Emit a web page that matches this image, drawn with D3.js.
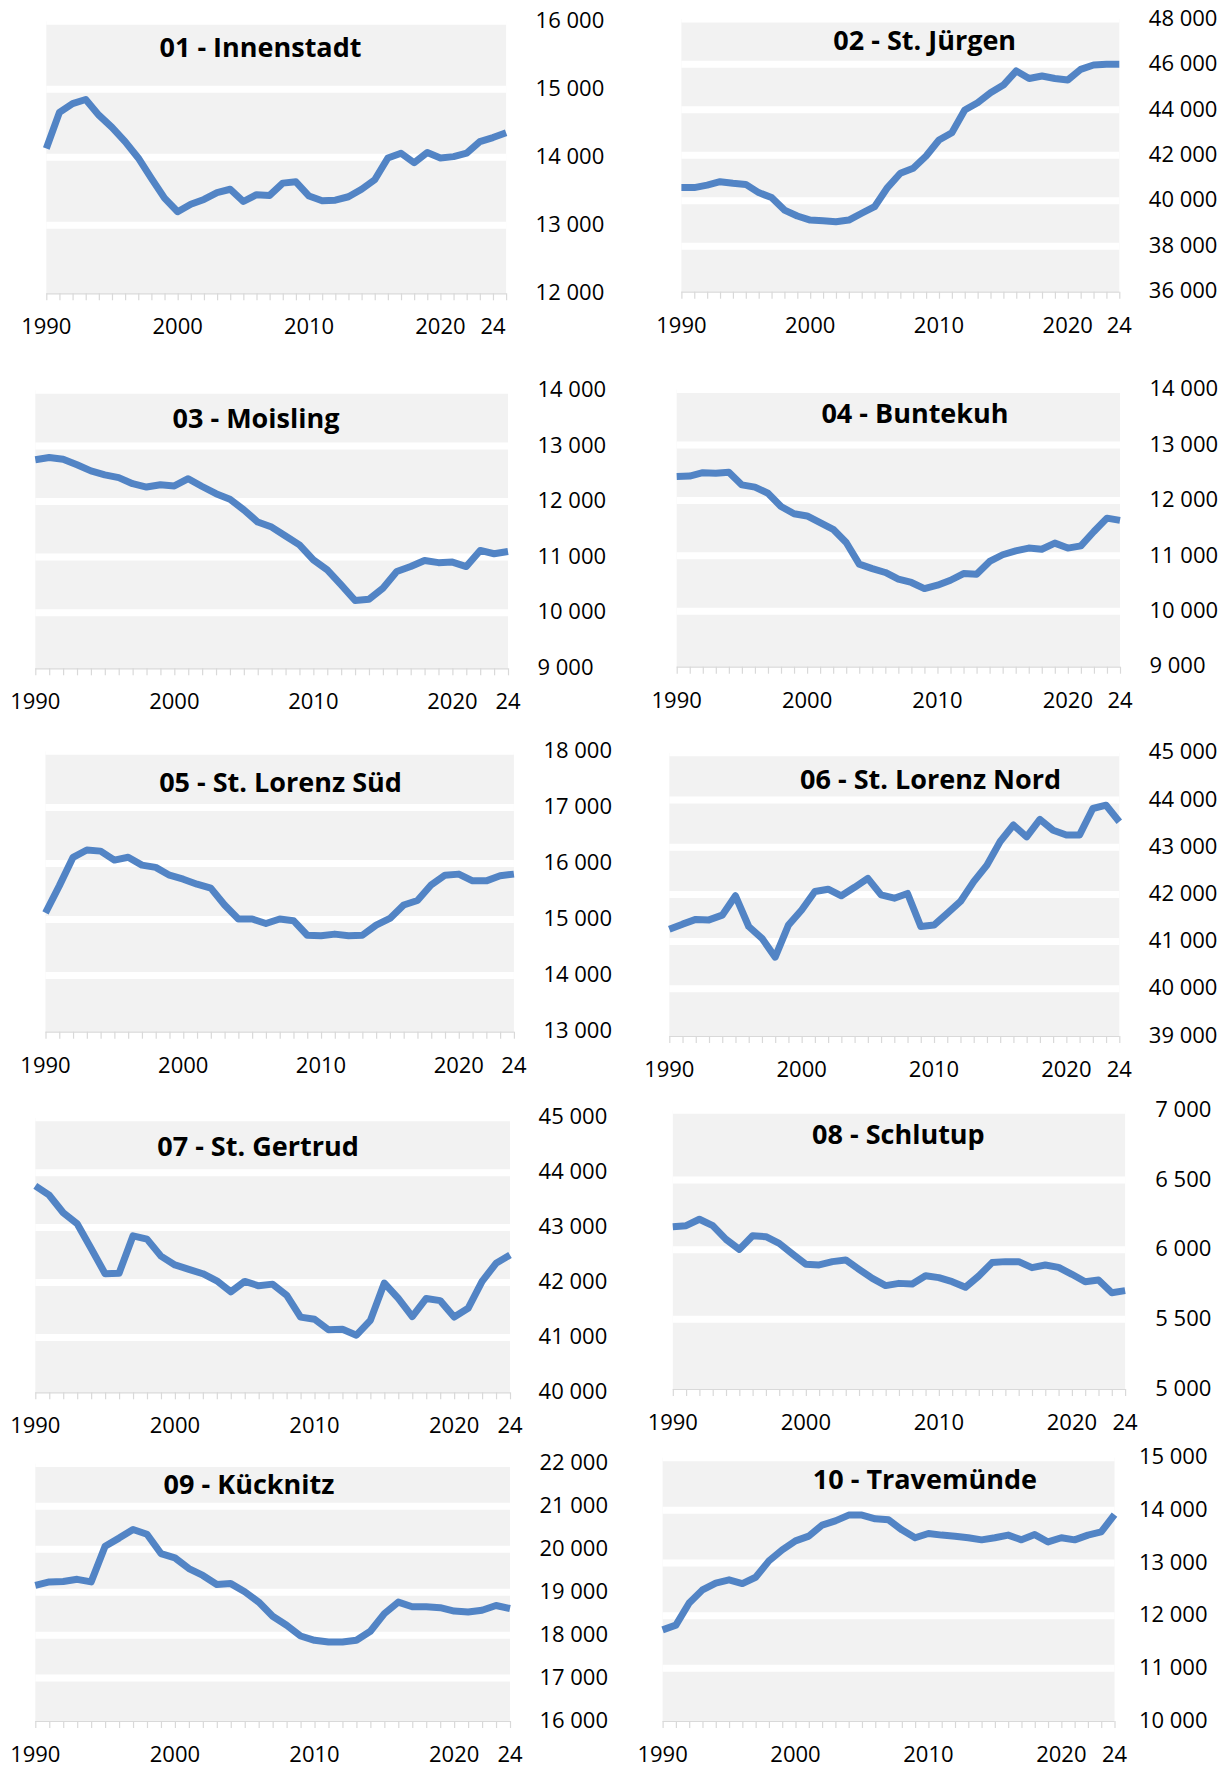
<!DOCTYPE html>
<html><head><meta charset="utf-8">
<script src="https://cdn.jsdelivr.net/npm/d3@7"></script>
<style>
html,body{margin:0;padding:0;background:#fff;}
svg{display:block;}
text{font-family:"Open Sans",sans-serif;fill:#000;}
</style></head><body>
<svg id="c" width="1224" height="1767"></svg>
<script>
// ---------- DATA ----------
const years = [1990,1991,1992,1993,1994,1995,1996,1997,1998,1999,2000,2001,2002,2003,2004,2005,2006,2007,2008,2009,2010,2011,2012,2013,2014,2015,2016,2017,2018,2019,2020,2021,2022,2023,2024];
const yearsInnenstadt = [1990,1991,1992,1993,1994,1995,1996,1997,1998,1999,2000,2001,2002,2003,2004,2005,2006,2007,2008,2009,2010,2011,2012,2013,2014,2015,2016,2017,2018,2019,2020,2021,2022,2023,2024,2025];
const xTickYears = [1990, 2000, 2010, 2020, 2024];
const xTickLabels = ["1990", "2000", "2010", "2020", "24"];

const titles = ["01 - Innenstadt","02 - St. Jürgen","03 - Moisling","04 - Buntekuh","05 - St. Lorenz Süd","06 - St. Lorenz Nord","07 - St. Gertrud","08 - Schlutup","09 - Kücknitz","10 - Travemünde"];

const v01 = [14130,14660,14790,14850,14620,14440,14230,13990,13690,13400,13200,13310,13380,13480,13530,13350,13450,13440,13620,13640,13430,13360,13370,13420,13530,13670,13990,14060,13920,14070,13990,14010,14060,14230,14290,14360];
const v02 = [40580,40580,40690,40840,40770,40720,40360,40140,39590,39330,39150,39120,39080,39150,39450,39740,40580,41210,41430,41970,42670,42990,43990,44310,44750,45090,45710,45380,45490,45380,45310,45780,45970,46000,46000];
const v03 = [12750,12790,12760,12660,12550,12480,12430,12320,12260,12300,12280,12410,12270,12140,12040,11850,11630,11540,11380,11220,10950,10770,10500,10220,10240,10440,10740,10830,10940,10900,10910,10830,11120,11060,11100];
const v04 = [12430,12440,12500,12490,12510,12280,12240,12130,11890,11760,11720,11600,11480,11240,10850,10770,10700,10580,10520,10410,10470,10560,10680,10670,10900,11020,11090,11140,11120,11230,11140,11180,11440,11680,11640];
const v05 = [15120,15600,16110,16240,16220,16060,16110,15970,15930,15790,15720,15630,15560,15260,15010,15010,14930,15010,14980,14720,14710,14740,14710,14720,14900,15020,15260,15340,15620,15790,15810,15690,15690,15780,15810];
const v06 = [41260,41370,41470,41460,41560,41970,41320,41070,40670,41350,41670,42060,42110,41970,42150,42340,41990,41920,42020,41320,41350,41600,41850,42270,42620,43120,43470,43220,43590,43360,43260,43260,43820,43890,43540];
const v07 = [43760,43590,43270,43070,42620,42160,42170,42850,42790,42480,42320,42240,42160,42030,41830,42020,41940,41970,41770,41370,41330,41140,41150,41040,41310,41990,41710,41380,41710,41670,41370,41530,42020,42350,42500];
const v08 = [6165,6172,6218,6172,6074,6002,6100,6093,6045,5969,5895,5890,5914,5926,5859,5794,5742,5758,5753,5813,5799,5770,5730,5811,5907,5914,5914,5871,5890,5873,5823,5770,5782,5691,5706];
const v09 = [19160,19240,19250,19300,19240,20070,20260,20460,20350,19900,19800,19550,19390,19180,19200,19010,18770,18440,18230,17980,17880,17840,17840,17880,18090,18500,18770,18660,18660,18640,18560,18540,18580,18690,18620];
const v10 = [11730,11820,12240,12490,12620,12680,12610,12730,13040,13250,13420,13510,13720,13800,13910,13910,13840,13820,13630,13480,13560,13530,13510,13480,13440,13480,13530,13440,13540,13400,13480,13440,13530,13590,13920];

const yTicks01 = [12000,13000,14000,15000,16000];
const yTicks02 = [36000,38000,40000,42000,44000,46000,48000];
const yTicks03 = [9000,10000,11000,12000,13000,14000];
const yTicks04 = [9000,10000,11000,12000,13000,14000];
const yTicks05 = [13000,14000,15000,16000,17000,18000];
const yTicks06 = [39000,40000,41000,42000,43000,44000,45000];
const yTicks07 = [40000,41000,42000,43000,44000,45000];
const yTicks08 = [5000,5500,6000,6500,7000];
const yTicks09 = [16000,17000,18000,19000,20000,21000,22000];
const yTicks10 = [10000,11000,12000,13000,14000,15000];

// ---------- LAYOUT (positions only) ----------
const layout = [
  {x0:46.3,  x1:506.1,  yTop:21.3,   yBot:293.3,  tx:260.5, ty:56.7,   lg:29.5},
  {x0:681.4, x1:1119.3, yTop:18.9,   yBot:291.7,  tx:924.7, ty:50.0,   lg:29.5},
  {x0:35.3,  x1:508.0,  yTop:390.3,  yBot:668.3,  tx:256.0, ty:427.7,  lg:29.5},
  {x0:676.7, x1:1120.0, yTop:389.6,  yBot:666.7,  tx:915.0, ty:422.7,  lg:29.5},
  {x0:45.5,  x1:513.9,  yTop:751.3,  yBot:1031.7, tx:280.5, ty:791.7,  lg:29.5},
  {x0:669.3, x1:1119.3, yTop:752.8,  yBot:1036.0, tx:930.6, ty:789.0,  lg:29.5},
  {x0:35.3,  x1:510.0,  yTop:1117.8, yBot:1392.3, tx:258.0, ty:1156.0, lg:28.6},
  {x0:672.8, x1:1125.1, yTop:1110.3, yBot:1389.0, tx:898.4, ty:1144.3, lg:30.2},
  {x0:35.3,  x1:510.0,  yTop:1463.4, yBot:1721.0, tx:249.0, ty:1493.7, lg:29.4},
  {x0:662.6, x1:1114.5, yTop:1457.7, yBot:1721.0, tx:924.9, ty:1488.7, lg:24.4}
];

const series = [v01,v02,v03,v04,v05,v06,v07,v08,v09,v10];
const cats = [yearsInnenstadt,years,years,years,years,years,years,years,years,years];
const yTicks = [yTicks01,yTicks02,yTicks03,yTicks04,yTicks05,yTicks06,yTicks07,yTicks08,yTicks09,yTicks10];

const loc = d3.formatLocale({decimal:",", thousands:"\u00a0", grouping:[3], currency:["","€"]});
const fmt = loc.format(",d");

const svg = d3.select("#c");

series.forEach((vals, i) => {
  const L = layout[i];
  const yrs = cats[i];
  const tk = yTicks[i];
  const x = d3.scaleLinear().domain([yrs[0], yrs[yrs.length-1]]).range([L.x0, L.x1]);
  const y = d3.scaleLinear().domain([tk[0], tk[tk.length-1]]).range([L.yBot, L.yTop]);
  const g = svg.append("g");

  g.append("rect").attr("x", L.x0).attr("y", y(tk[tk.length-1]))
    .attr("width", L.x1 - L.x0).attr("height", y(tk[0]) - y(tk[tk.length-1]))
    .attr("fill", "#f2f2f2");

  g.selectAll("line.grid").data(tk.slice(1)).enter().append("line")
    .attr("x1", L.x0).attr("x2", L.x1)
    .attr("y1", d => y(d)).attr("y2", d => y(d))
    .attr("stroke", "#fff").attr("stroke-width", 7);

  // bottom axis with a tick per year
  const xAxis = d3.axisBottom(x).tickValues(yrs).tickSize(7).tickFormat("");
  const ax = g.append("g").attr("transform", `translate(0,${L.yBot})`).call(xAxis);
  ax.select(".domain").attr("stroke", "#d9d9d9").attr("stroke-width", 1.2).attr("d", `M${L.x0},0.5H${L.x1}`);
  ax.selectAll(".tick line").attr("stroke", "#d9d9d9").attr("stroke-width", 1.2);

  g.selectAll("text.xl").data(xTickYears).enter().append("text")
    .attr("x", d => x(d)).attr("y", L.yBot + 41)
    .attr("text-anchor", "middle").attr("font-size", 22)
    .text((d, j) => xTickLabels[j]);

  // right value labels
  const yAxis = d3.axisRight(y).tickValues(tk).tickSize(0).tickPadding(0).tickFormat(d => fmt(d));
  const ay = g.append("g").attr("transform", `translate(${L.x1 + L.lg},0)`).call(yAxis);
  ay.select(".domain").remove();
  ay.selectAll(".tick text").attr("font-size", 22).attr("font-family", '"Open Sans",sans-serif')
    .attr("fill", "#000").attr("x", 0).attr("dy", "0.28em");

  const line = d3.line().x((d, j) => x(yrs[j])).y(d => y(d)).curve(d3.curveLinear);
  g.append("path").datum(vals).attr("d", line)
    .attr("fill", "none").attr("stroke", "#5284c5").attr("stroke-width", 7)
    .attr("stroke-linejoin", "round");

  g.append("text").attr("x", L.tx).attr("y", L.ty)
    .attr("text-anchor", "middle").attr("font-size", 27).attr("font-weight", 700)
    .text(titles[i]);
});
</script>
</body></html>
